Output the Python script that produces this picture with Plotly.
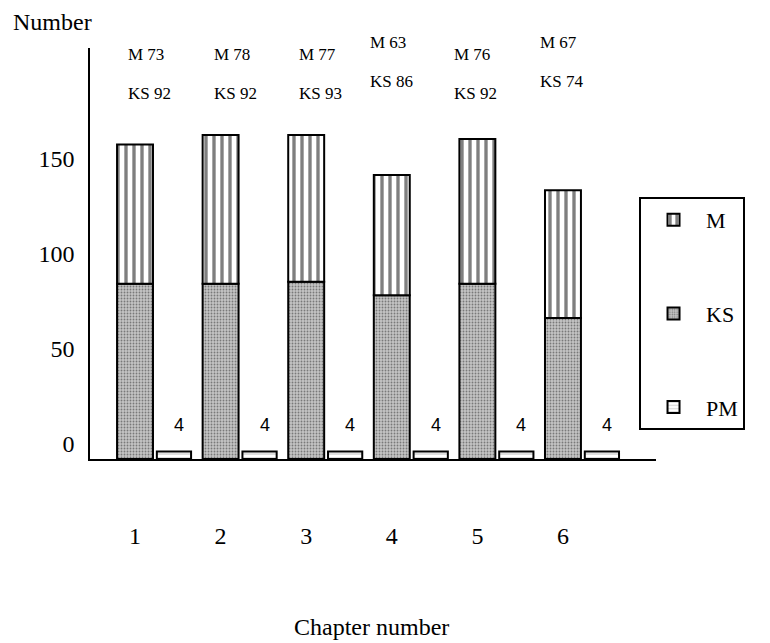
import plotly.graph_objects as go

# ---- data ----
chapters = [1, 2, 3, 4, 5, 6]
ks_values = [92, 92, 93, 86, 92, 74]
m_values = [73, 78, 77, 63, 76, 67]
pm_values = [4, 4, 4, 4, 4, 4]
y_ticks = [0, 50, 100, 150]

# ---- layout-only helpers (pixel nudges of the header labels) ----
label_dx = [-9, -9, -9, -24, -25, -25]
label_dy = [0, 0, 0, 12, 0, 12]

SERIF = "Liberation Serif"
SANS = "Liberation Sans"

fig = go.Figure()

fig.add_trace(go.Bar(
    name="KS", x=chapters, y=ks_values, width=0.42,
    legendgroup="ks", legendrank=2,
    marker=dict(
        color="#bdbdbd",
        line=dict(color="black", width=2),
        pattern=dict(shape=".", fgcolor="#2e2e2e", bgcolor="#c4c4c4",
                     size=3, solidity=0.3),
    ),
))
fig.add_trace(go.Bar(
    name="M", x=chapters, y=m_values, base=ks_values, width=0.42,
    legendgroup="m", legendrank=1,
    marker=dict(
        color="white",
        line=dict(color="black", width=2),
        pattern=dict(shape="|", fgcolor="black", bgcolor="white",
                     size=8, solidity=0.42),
    ),
))
fig.add_trace(go.Bar(
    name="PM", x=chapters, y=pm_values, width=0.40, offset=0.255,
    legendgroup="pm", legendrank=3,
    marker=dict(
        color="white",
        line=dict(color="black", width=2),
        pattern=dict(shape="-", fgcolor="#7a7a7a", bgcolor="white",
                     size=4, solidity=0.25),
    ),
))

annotations = []
for i, c in enumerate(chapters):
    annotations.append(dict(
        x=c, xref="x", y=(459 - 55) / 411, yref="paper",
        text=f"M {m_values[i]}", showarrow=False, xanchor="left", yanchor="middle",
        xshift=label_dx[i], yshift=label_dy[i],
        font=dict(family=SERIF, size=17, color="black"),
    ))
    annotations.append(dict(
        x=c, xref="x", y=(459 - 93) / 411, yref="paper",
        text=f"KS {ks_values[i]}", showarrow=False, xanchor="left", yanchor="middle",
        xshift=label_dx[i], yshift=label_dy[i],
        font=dict(family=SERIF, size=17, color="black"),
    ))
    annotations.append(dict(
        x=c + 0.455, xref="x", y=pm_values[i], yref="y",
        text=str(pm_values[i]), showarrow=False, xanchor="center", yanchor="middle",
        xshift=5, yshift=26,
        font=dict(family=SANS, size=18, color="black"),
    ))

annotations.append(dict(
    x=-0.14, xref="paper", y=(459 - 22) / 411, yref="paper",
    text="Number", showarrow=False, xanchor="left", yanchor="middle",
    font=dict(family=SERIF, size=24, color="black"),
))
annotations.append(dict(
    x=0.498, xref="paper", y=(459 - 627) / 411, yref="paper",
    text="Chapter number", showarrow=False, xanchor="center", yanchor="middle",
    font=dict(family=SERIF, size=24, color="black"),
))

# the page adds an 8 px body margin, so the figure is 8 px smaller than the window
fig.update_layout(
    width=762, height=635,
    margin=dict(l=82, r=114, t=40, b=184, autoexpand=False),
    paper_bgcolor="white", plot_bgcolor="white",
    barmode="overlay",
    showlegend=True,
    legend=dict(
        x=0.970, xanchor="left", y=(459 - 197) / 411, yanchor="top",
        bordercolor="black", borderwidth=2, bgcolor="white",
        traceorder="grouped", tracegroupgap=62,
        itemwidth=55, entrywidth=130, entrywidthmode="pixels",
        font=dict(family=SERIF, size=22, color="black"),
    ),
    annotations=annotations,
    xaxis=dict(
        range=[0.474, 7.087], tickvals=chapters, ticktext=[str(c) for c in chapters],
        showline=True, linecolor="black", linewidth=1.5,
        showgrid=False, zeroline=False, ticks="", automargin=False,
        ticklabelstandoff=54,
        tickfont=dict(family=SERIF, size=24, color="black"),
    ),
    yaxis=dict(
        range=[0, 215.7], tickvals=y_ticks,
        showline=True, linecolor="black", linewidth=1.5,
        showgrid=False, zeroline=False, ticks="", automargin=False,
        ticklabelshift=-15, ticklabelstandoff=9,
        tickfont=dict(family=SERIF, size=24, color="black"),
    ),
)

fig.write_html("out.html")
